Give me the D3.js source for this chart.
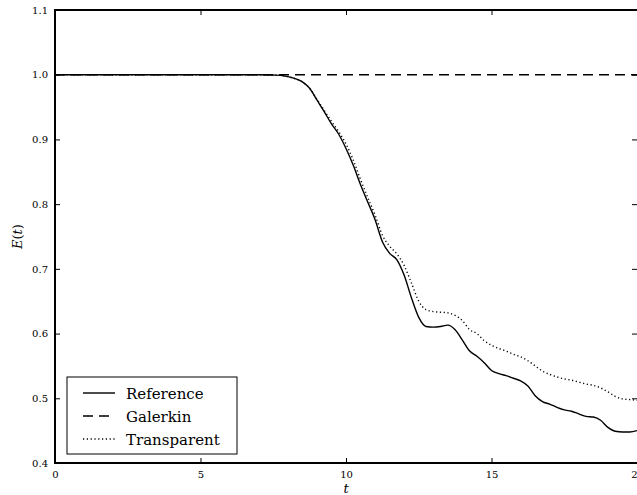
<!DOCTYPE html>
<html><head><meta charset="utf-8">
<script src="https://cdn.jsdelivr.net/npm/d3@7/dist/d3.min.js"></script>
<style>body{margin:0;background:#fff}svg{display:block}
svg text{font-family:"DejaVu Serif",serif;}</style>
</head><body>
<svg id="c" width="637" height="495"></svg>
<script>
const tValues = [0,1,2,3,4,5,6,7,7.5,7.75,8,8.25,8.5,8.75,9,9.25,9.5,9.75,10,10.25,10.5,10.75,11,11.25,11.5,11.75,12,12.25,12.5,12.75,13,13.25,13.5,13.75,14,14.25,14.5,14.75,15,15.25,15.5,15.75,16,16.25,16.5,16.75,17,17.25,17.5,17.75,18,18.25,18.5,18.75,19,19.25,19.5,19.75,20];
const referenceValues = [1,1,1,1,1,1,1,1,0.9995,0.999,0.997,0.994,0.989,0.979,0.961,0.943,0.924,0.908,0.886,0.860,0.830,0.803,0.776,0.742,0.724,0.714,0.690,0.655,0.625,0.611,0.610,0.611,0.613,0.606,0.590,0.573,0.565,0.555,0.543,0.538,0.535,0.531,0.527,0.519,0.504,0.495,0.491,0.486,0.482,0.480,0.476,0.472,0.471,0.466,0.455,0.449,0.448,0.448,0.450];
const galerkinValues = [1,1,1,1,1,1,1,1,1,1,1,1,1,1,1,1,1,1,1,1,1,1,1,1,1,1,1,1,1,1,1,1,1,1,1,1,1,1,1,1,1,1,1,1,1,1,1,1,1,1,1,1,1,1,1,1,1,1,1];
const transparentValues = [1,1,1,1,1,1,1,1,0.9995,0.999,0.997,0.994,0.989,0.979,0.962,0.945,0.928,0.912,0.893,0.868,0.838,0.810,0.783,0.752,0.735,0.723,0.705,0.678,0.650,0.637,0.634,0.633,0.632,0.628,0.620,0.606,0.600,0.589,0.582,0.577,0.573,0.568,0.564,0.558,0.550,0.542,0.537,0.533,0.530,0.528,0.525,0.522,0.520,0.516,0.510,0.503,0.499,0.498,0.497];
const xTicks = [0,5,10,15,20];
const yTicks = [0.4,0.5,0.6,0.7,0.8,0.9,1.0,1.1];
const seriesNames = ["Reference","Galerkin","Transparent"];

const svg = d3.select("#c");
const L=55, R=637, T=10, B=463;
const x = d3.scaleLinear().domain([0,20]).range([L,R]);
const y = d3.scaleLinear().domain([0.4,1.1]).range([B,T]);

const series = [
  {name:seriesNames[0], vals:referenceValues, dash:null},
  {name:seriesNames[1], vals:galerkinValues, dash:"10,6"},
  {name:seriesNames[2], vals:transparentValues, dash:"1.2,2.6"}
];
const line = d3.line().x((d,i)=>x(tValues[i])).y(d=>y(d)).curve(d3.curveMonotoneX);
const g = svg.append("g");
series.forEach(s=>{
  g.append("path").attr("d",line(s.vals)).attr("fill","none").attr("stroke","#000")
   .attr("stroke-width",1.4).attr("stroke-dasharray",s.dash);
});

// axes
const fmtY = d3.format(".1f");
const axB = d3.axisBottom(x).tickValues(xTicks).tickSize(-5).tickPadding(8).tickFormat(d3.format("d"));
const axT = d3.axisTop(x).tickValues(xTicks).tickSize(-5).tickFormat("");
const axL = d3.axisLeft(y).tickValues(yTicks).tickSize(-5).tickPadding(7).tickFormat(fmtY);
const axR = d3.axisRight(y).tickValues(yTicks).tickSize(-5).tickFormat("");
function style(sel){
  sel.attr("font-family",null);
  sel.select(".domain").remove();
  sel.selectAll(".tick line").attr("stroke","#000").attr("stroke-width",1);
  sel.selectAll("text").attr("font-size",10).attr("fill","#000");
}
svg.append("g").attr("transform",`translate(0,${B})`).call(axB).call(style);
svg.append("g").attr("transform",`translate(0,${T})`).call(axT).call(style);
svg.append("g").attr("transform",`translate(${L},0)`).call(axL).call(style);
svg.append("g").attr("transform",`translate(${R},0)`).call(axR).call(style);
svg.append("rect").attr("x",L).attr("y",T).attr("width",R-L+2).attr("height",B-T)
  .attr("fill","none").attr("stroke","#000").attr("stroke-width",2);

// labels
svg.append("text").attr("x",x(10)).attr("y",493).attr("text-anchor","middle")
  .attr("font-style","italic").attr("font-size",13).text("t");
svg.append("text").attr("transform",`translate(22,${y(0.75)}) rotate(-90)`).attr("text-anchor","middle")
  .attr("font-size",13).html("<tspan font-style='italic'>E</tspan>(<tspan font-style='italic'>t</tspan>)");

// legend
const lg = svg.append("g");
lg.append("rect").attr("x",67).attr("y",377).attr("width",170).attr("height",77)
  .attr("fill","#fff").attr("stroke","#000").attr("stroke-width",1);
series.forEach((s,i)=>{
  const yy = 393 + i*23;
  lg.append("line").attr("x1",83).attr("x2",115).attr("y1",yy).attr("y2",yy)
    .attr("stroke","#000").attr("stroke-width",1.4).attr("stroke-dasharray",s.dash);
  lg.append("text").attr("x",126).attr("y",yy+6).attr("font-size",15).text(s.name);
});
</script>
</body></html>
